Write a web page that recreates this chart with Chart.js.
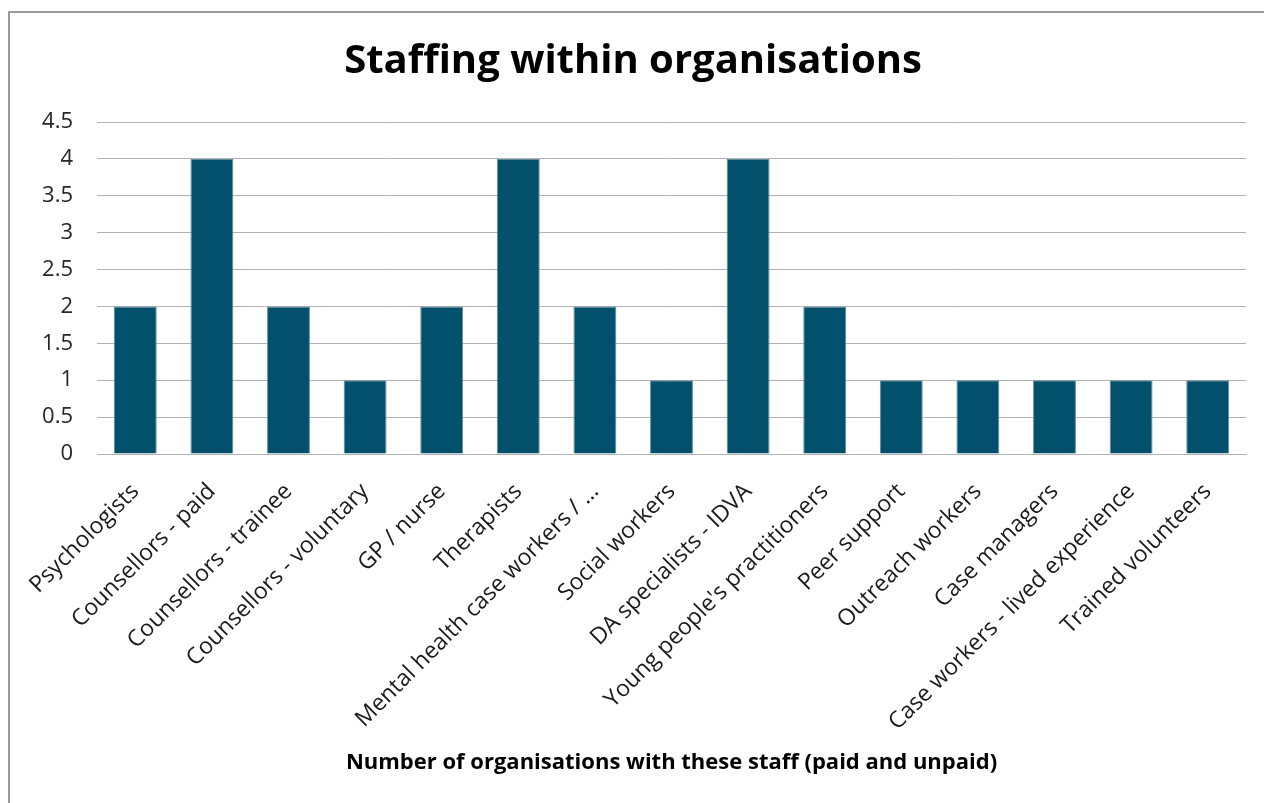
<!DOCTYPE html>
<html>
<head>
<meta charset="utf-8">
<script src="https://cdn.jsdelivr.net/npm/chart.js@4"></script>
<style>
  html, body { margin: 0; padding: 0; background: #ffffff; }
  canvas { display: block; }
</style>
</head>
<body>
<canvas id="staffingChart" width="1264" height="803"></canvas>
<script>
const staffTypes = [
  'Psychologists',
  'Counsellors - paid',
  'Counsellors - trainee',
  'Counsellors - voluntary',
  'GP / nurse',
  'Therapists',
  'Mental health case workers / \u2026',
  'Social workers',
  'DA specialists - IDVA',
  "Young people's practitioners",
  'Peer support',
  'Outreach workers',
  'Case managers',
  'Case workers - lived experience',
  'Trained volunteers'
]
const organisationCounts = [2, 4, 2, 1, 2, 4, 2, 1, 4, 2, 1, 1, 1, 1, 1]
const yMin = 0
const yMax = 4.5
const yStep = 0.5

const fontFamily = '"Open Sans", "Liberation Sans", sans-serif'

// thin grey frame along the top and left edge of the chart box
const framePlugin = {
  id: 'frame',
  beforeDraw: function (chart) {
    const ctx = chart.ctx
    ctx.save()
    ctx.fillStyle = '#ffffff'
    ctx.fillRect(0, 0, chart.width, chart.height)
    ctx.strokeStyle = '#9a9a9a'
    ctx.lineWidth = 2
    ctx.beginPath()
    ctx.moveTo(9, chart.height)
    ctx.lineTo(9, 12)
    ctx.lineTo(chart.width, 12)
    ctx.stroke()
    ctx.restore()
  }
}

window.addEventListener('load', function () {
  const ctx = document.getElementById('staffingChart').getContext('2d')
  window.staffingChart = new Chart(ctx, {
    type: 'bar',
    data: {
      labels: staffTypes,
      datasets: [
        {
          label: 'Organisations',
          data: organisationCounts,
          backgroundColor: '#02506b',
          borderColor: '#5f8c9c',
          borderWidth: 1,
          categoryPercentage: 1,
          barPercentage: 0.56
        }
      ]
    },
    options: {
      responsive: false,
      animation: false,
      layout: {
        padding: { left: 20, right: 18, top: 0, bottom: 20 }
      },
      plugins: {
        legend: { display: false },
        tooltip: { enabled: false },
        title: {
          display: true,
          text: 'Staffing within organisations',
          color: '#000000',
          font: { family: fontFamily, size: 40, weight: 'bold' },
          padding: { top: 38, bottom: 36 }
        }
      },
      scales: {
        x: {
          grid: { display: false, drawTicks: false },
          border: { display: true, color: '#b3b3b3', width: 1 },
          ticks: {
            color: '#1a1a1a',
            font: { family: fontFamily, size: 23 },
            minRotation: 45,
            maxRotation: 45,
            autoSkip: false,
            padding: 24
          },
          title: {
            display: true,
            text: 'Number of organisations with these staff (paid and unpaid)',
            color: '#000000',
            font: { family: fontFamily, size: 22, weight: 'bold' },
            padding: { top: 4, bottom: 7 }
          },
          afterFit: function (scale) {
            scale.height = 329
          }
        },
        y: {
          min: yMin,
          max: yMax,
          grid: { color: '#b3b3b3', lineWidth: 1, drawTicks: false },
          border: { display: false },
          ticks: {
            stepSize: yStep,
            color: '#262626',
            font: { family: fontFamily, size: 22 },
            padding: 24,
            callback: function (value) {
              return String(value)
            }
          },
          afterFit: function (scale) {
            scale.width = 77
          }
        }
      }
    },
    plugins: [framePlugin]
  })
})
</script>
</body>
</html>
